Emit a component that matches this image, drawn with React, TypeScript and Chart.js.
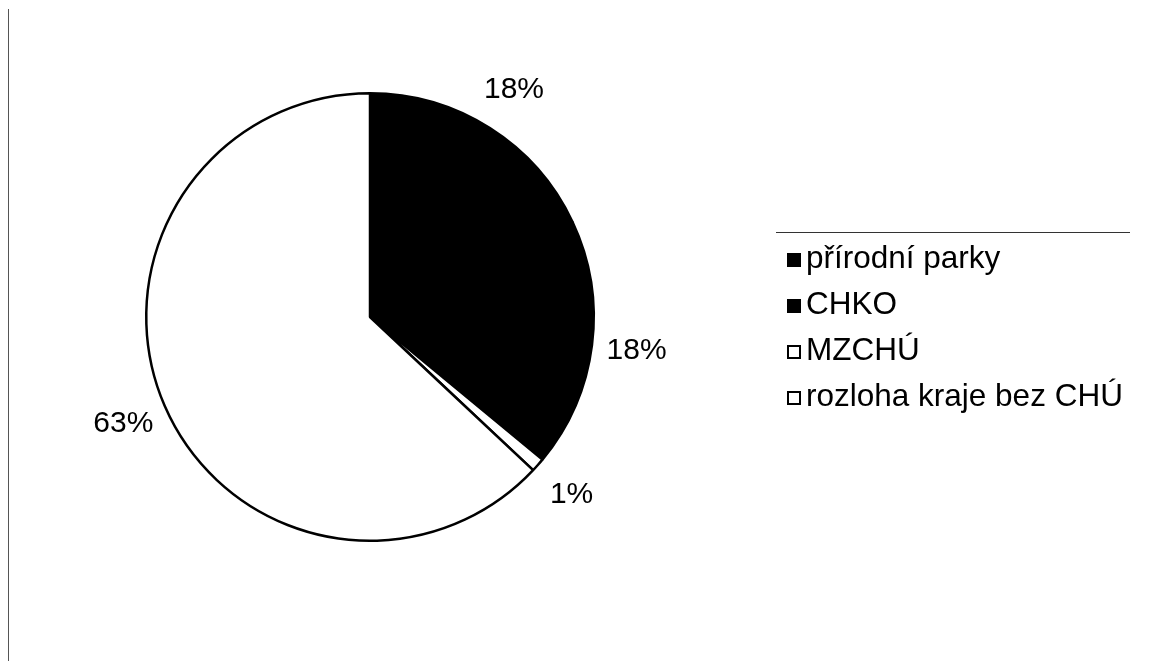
import React, { useEffect, useRef } from "react";
import { Chart, registerables } from "chart.js";

Chart.register(...registerables);

const categories = ["přírodní parky", "CHKO", "MZCHÚ", "rozloha kraje bez CHÚ"];
const values = [18, 18, 1, 63];
const valueLabels = ["18%", "18%", "1%", "63%"];
const fillColors = ["#000000", "#000000", "#ffffff", "#ffffff"];

const FONT = '"Liberation Sans", Arial, sans-serif';

const decorPlugin = {
  id: "decor",
  afterDraw(chart: any) {
    const ctx = chart.ctx as CanvasRenderingContext2D;
    const meta = chart.getDatasetMeta(0);
    ctx.save();
    // left frame line
    ctx.strokeStyle = "#555555";
    ctx.lineWidth = 1;
    ctx.beginPath();
    ctx.moveTo(8.5, 9);
    ctx.lineTo(8.5, 661);
    ctx.stroke();

    // data labels
    ctx.fillStyle = "#000";
    ctx.font = `30px ${FONT}`;
    ctx.textAlign = "center";
    ctx.textBaseline = "middle";
    meta.data.forEach((arc: any, i: number) => {
      const mid = (arc.startAngle + arc.endAngle) / 2;
      const r = arc.outerRadius + 45;
      const x = arc.x + Math.cos(mid) * r;
      const y = arc.y + Math.sin(mid) * r;
      ctx.fillText(valueLabels[i], x, y);
    });

    // legend
    ctx.strokeStyle = "#333";
    ctx.lineWidth = 1;
    ctx.beginPath();
    ctx.moveTo(776, 232.5);
    ctx.lineTo(1130, 232.5);
    ctx.stroke();

    ctx.font = `31.5px ${FONT}`;
    ctx.textAlign = "left";
    ctx.textBaseline = "middle";
    const rowY = [258, 304, 350, 396];
    categories.forEach((c, i) => {
      const y = rowY[i];
      const s = 14;
      const sx = 787;
      const sy = y - 5;
      if (fillColors[i] === "#000000") {
        ctx.fillStyle = "#000";
        ctx.fillRect(sx, sy, s, s);
      } else {
        ctx.fillStyle = "#fff";
        ctx.fillRect(sx, sy, s, s);
        ctx.strokeStyle = "#000";
        ctx.lineWidth = 2;
        ctx.strokeRect(sx + 1, sy + 1, s - 2, s - 2);
      }
      ctx.fillStyle = "#000";
      ctx.fillText(c, 806, y + 1);
    });
    ctx.restore();
  },
};

export default function App() {
  const ref = useRef<HTMLCanvasElement | null>(null);
  useEffect(() => {
    if (!ref.current) return;
    const chart = new Chart(ref.current, {
      type: "pie",
      data: {
        labels: categories,
        datasets: [
          {
            data: values,
            backgroundColor: fillColors,
            borderColor: "#000000",
            borderWidth: 2.5,
          },
        ],
      },
      options: {
        animation: false,
        responsive: false,
        events: [],
        layout: { padding: { left: 145, right: 557, top: 92, bottom: 119 } },
        plugins: {
          legend: { display: false },
          tooltip: { enabled: false },
          title: { display: false },
        },
      },
      plugins: [decorPlugin],
    });
    return () => chart.destroy();
  }, []);
  return (
    <div style={{ position: "absolute", left: 0, top: 0, width: 1152, height: 661, background: "#fff" }}>
      <canvas ref={ref} width={1152} height={661} style={{ width: 1152, height: 661 }} />
    </div>
  );
}
